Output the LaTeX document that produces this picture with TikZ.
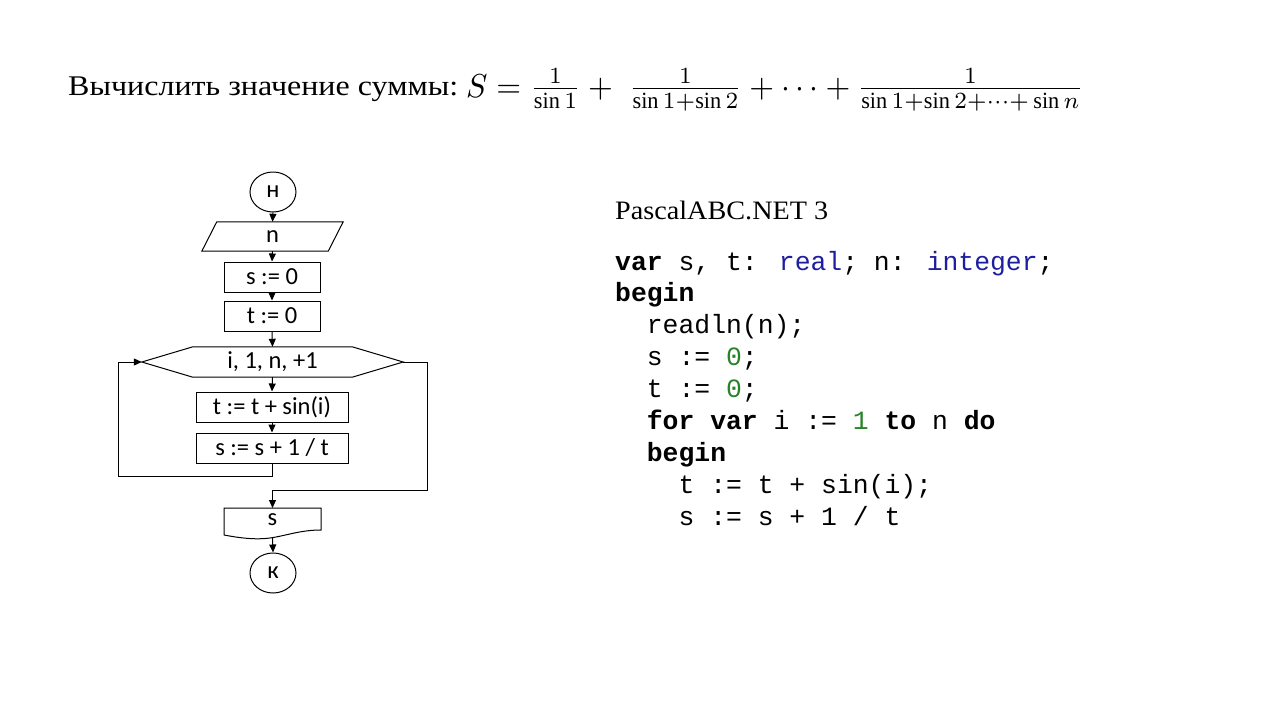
\documentclass[tikz,border=0pt]{standalone}
\usepackage{fontspec}
\usepackage{graphicx}
\setmainfont{Liberation Serif}
\newfontfamily\fcfont{Carlito}
\newfontfamily\codefont{Liberation Mono}
\usetikzlibrary{shapes.geometric,arrows.meta,calc}
\definecolor{kwblue}{RGB}{30,30,160}
\definecolor{numgreen}{RGB}{40,130,40}
\tikzset{
  fc/.style={font=\fcfont\fontsize{24.5}{27}\selectfont, inner sep=0pt},
  term/.style={fc, ellipse, draw, line width=1pt, minimum width=46pt, minimum height=40pt},
  proc/.style={fc, rectangle, draw, line width=1pt, minimum height=30pt},
  ghost/.style={fc, rectangle, draw=none},
  flow/.style={-{Triangle[length=8pt,width=7pt]}, line width=1pt},
  edge/.style={line width=1pt},
  codeline/.style={anchor=base west, inner sep=0pt, font=\codefont\fontsize{26.4}{32}\selectfont},
}
\begin{document}
\begin{tikzpicture}[x=1pt,y=-1pt]
\useasboundingbox (0,0) rectangle (1280,720);
\fill[white] (0,0) rectangle (1280,720);

% title
\node[anchor=base west, inner sep=0pt, font=\fontsize{28.5}{32}\selectfont] (title) at (68,95)
  {\resizebox{390pt}{\height}{Вычислить значение суммы:}};
\node[anchor=base west, inner sep=0pt] (formula) at (466,97)
  {\resizebox{617pt}{28pt}{$S=\frac{1}{\sin 1}+\;\frac{1}{\sin 1+\sin 2}+\cdots+\frac{1}{\sin 1+\sin 2+\cdots+\,\sin n}$}};

% flowchart
\node[term] (start) at (273,192) {н};
\node[ghost, minimum width=126pt, minimum height=29pt] (inp) at (272.5,236.5) {n};
\draw[edge] ([xshift=7.5pt]inp.north west) -- ([xshift=7.5pt]inp.north east)
  -- ([xshift=-7.5pt]inp.south east) -- ([xshift=-7.5pt]inp.south west) -- cycle;
\node[proc, minimum width=96pt] (s0) at (272,277) {s := 0};
\node[proc, minimum width=96pt] (t0) at (272,316) {t := 0};
\node[ghost, minimum width=261pt, minimum height=30pt] (loop) at (272.5,362) {i, 1, n, +1};
\draw[edge] (loop.west) -- ([xshift=51pt]loop.north west) -- ([xshift=-51pt]loop.north east)
  -- (loop.east) -- ([xshift=-51pt]loop.south east) -- ([xshift=51pt]loop.south west) -- cycle;
\node[proc, minimum width=152pt] (b1) at (272,407) {t := t + sin(i)};
\node[proc, minimum width=152pt] (b2) at (272,448) {s := s + 1 / t};
\node[ghost, minimum width=97pt, minimum height=22pt] (out) at (272.5,520) {s};
\draw[edge] (224,535) -- (224,508) -- (321,508) -- (321,530)
  .. controls (300,530) and (285,536) .. (270,538)
  .. controls (255,540) and (240,538) .. (224,535);
\node[term] (fin) at (273,573) {к};

\coordinate (outtop) at (272.5,508);
\coordinate (outbot) at (272.5,537.5);

\draw[flow] (start.south) -- (inp.north);
\draw[flow] (inp.south) -- (s0.north);
\draw[flow] (s0.south) -- (t0.north);
\draw[flow] (t0.south) -- (loop.north);
\draw[flow] (loop.south) -- (b1.north);
\draw[flow] (b1.south) -- (b2.north);
\draw[flow] (b2.south) -- ++(0,13) -| (118,362) -- (loop.west);
\draw[flow] (loop.east) -- (427,362) |- (272.5,490) -- (outtop);
\draw[flow] (outbot) -- (fin.north);

% code
\node[anchor=base west, inner sep=0pt, font=\fontsize{26.6}{30}\selectfont] (lang) at (615,219)
  {\resizebox{213pt}{\height}{PascalABC.NET 3}};
\node[codeline] (c1) at (615,270) {\textbf{var} s, t: \textcolor{kwblue}{real}; n: \textcolor{kwblue}{integer};};
\node[codeline] (c2) at (615,301.5) {\textbf{begin}};
\node[codeline] (c3) at (646.7,333) {readln(n);};
\node[codeline] (c4) at (646.7,365) {s := \textcolor{numgreen}{0};};
\node[codeline] (c5) at (646.7,397) {t := \textcolor{numgreen}{0};};
\node[codeline] (c6) at (646.7,429) {\textbf{for} \textbf{var} i := \textcolor{numgreen}{1} \textbf{to} n \textbf{do}};
\node[codeline] (c7) at (646.7,461) {\textbf{begin}};
\node[codeline] (c8) at (678.4,493) {t := t + sin(i);};
\node[codeline] (c9) at (678.4,525) {s := s + 1 / t};
\end{tikzpicture}
\end{document}
